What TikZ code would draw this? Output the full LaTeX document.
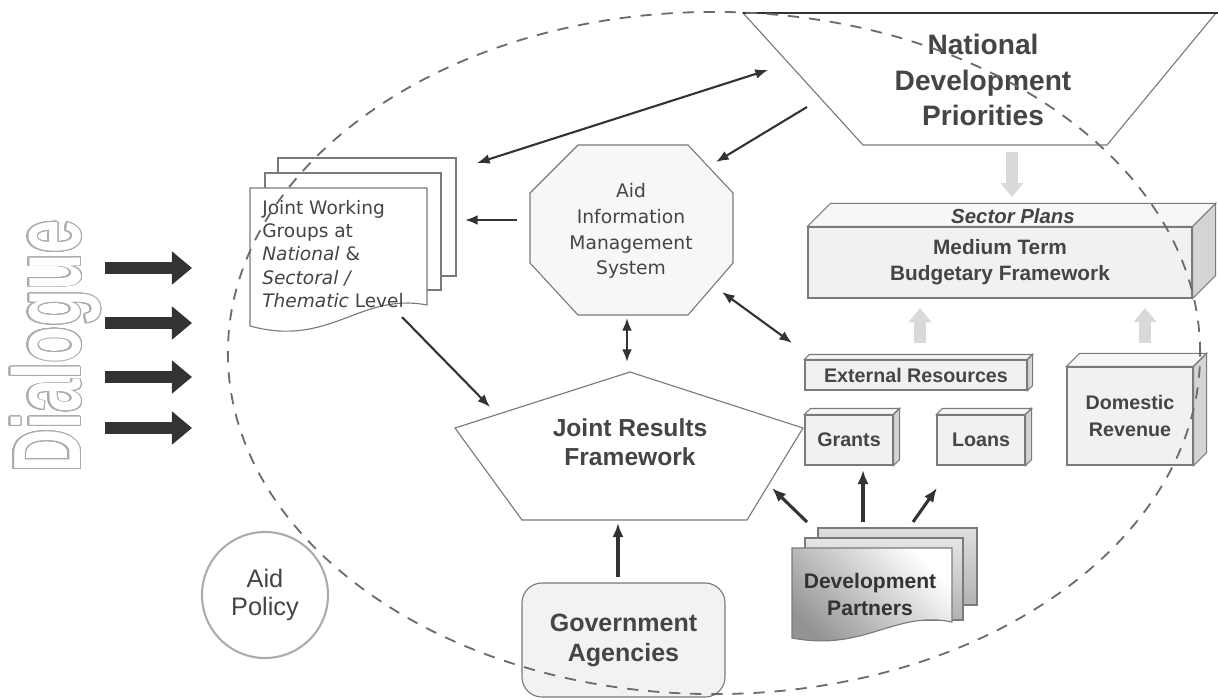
\documentclass[tikz,border=0pt]{standalone}
\usepackage{fontspec}
\setmainfont{Liberation Sans}
\newfontfamily\dvs{DejaVu Sans}
\usepackage{contour}
\usetikzlibrary{arrows.meta}
\contourlength{1pt}
\contournumber{32}
\definecolor{txt}{HTML}{454545}
\definecolor{ink}{HTML}{333333}
\definecolor{edge}{HTML}{7A7A7A}
\definecolor{face}{HTML}{F1F1F1}
\definecolor{topc}{HTML}{F7F7F7}
\definecolor{side}{HTML}{D4D4D4}
\newcommand\fs[2]{\fontsize{#1}{#2}\selectfont}
\tikzset{
  box/.style={draw=edge,line width=0.8pt,fill=face,text=txt,align=center,inner sep=0pt,font=\bfseries\fs{14}{19}},
  top face/.style={draw=edge,line width=0.8pt,fill=topc},
  side face/.style={draw=edge,line width=0.8pt,fill=side},
  bigtext/.style={text=txt,align=center,font=\bfseries\fs{17.5}{21}},
  doc/.style={draw=edge,line width=0.8pt,fill=white},
  conn/.style={ink,line width=1.5pt,>={Latex[length=9pt,width=7pt]}},
  feed/.style={ink,line width=2.2pt,-{Latex[length=10pt,width=8pt]}},
  lift/.style={gray!30,line width=8.5pt,-{Triangle[length=0.35cm,width=0.55cm]}},
  push/.style={ink,line width=9pt,-{Triangle[length=0.5cm,width=0.8cm]}},
  rim/.style={gray!85!black,line width=1.3pt,dash pattern=on 8pt off 7pt}
}
\begin{document}
\begin{tikzpicture}[x=0.025cm,y=-0.025cm]
\useasboundingbox (0,0) rectangle (1218,699);
% dialogue
\node[rotate=90,anchor=base west,inner sep=0pt] (dialogue) at (80,473)
  {\scalebox{0.625}[1]{\fs{68}{68}\bfseries\color{white}\contour{gray!65}{Dialogue}}};
\foreach \y [count=\i] in {268,323,377,428} {
  \coordinate (in\i) at (105,\y);
  \coordinate (out\i) at (192,\y);
  \draw[push] (in\i) -- (out\i);
}
% national development priorities
\draw[draw=edge,line width=0.8pt,fill=white] (743,13) -- (1216,13) -- (1107,145) -- (863,145) -- cycle;
\draw[ink,line width=1pt] (743,13) -- (1218,13);
\node[bigtext,font=\bfseries\fs{20}{25}] (ndp) at (983,80) {National\\Development\\Priorities};
% budget boxes
\node[box,minimum width=9.6cm,minimum height=1.775cm,font=\bfseries\fs{14.8}{18.5}] (mtbf) at (1000,262.5) {Medium Term\\Budgetary Framework};
\node[box,minimum width=5.55cm,minimum height=0.75cm] (ext) at (916,375) {External Resources};
\node[box,minimum width=2.2cm,minimum height=1.25cm] (grants) at (849,440) {Grants};
\node[box,minimum width=2.2cm,minimum height=1.25cm] (loans) at (981,440) {Loans};
\node[box,minimum width=3.15cm,minimum height=2.45cm] (dom) at (1130,416) {Domestic\\Revenue};
\foreach \n/\d in {mtbf/23,ext/5,grants/6,loans/6,dom/13} {
  \draw[top face] (\n.north west) -- ++(\d,-\d) -- ([shift={(\d,-\d)}]\n.north east) -- (\n.north east) -- cycle;
  \draw[side face] (\n.north east) -- ++(\d,-\d) -- ([shift={(\d,-\d)}]\n.south east) -- (\n.south east) -- cycle;
}
\node[text=txt,font=\bfseries\itshape\fs{14.5}{16}] (sector) at (1013,216) {Sector Plans};
% aims
\draw[draw=edge,line width=0.8pt,fill=gray!6] (578,145) -- (688,145) -- (733,193) -- (733,263)
  -- (688,315) -- (578,315) -- (530,263) -- (530,193) -- cycle;
\node[text=txt,align=center,font=\dvs\fs{13.3}{18.3}] (aims) at (631,231) {Aid\\Information\\Management\\System};
% joint working groups
\draw[doc] (278,158) rectangle (456,276);
\draw[doc] (265,173) rectangle (441,290);
\draw[doc] (250,188) -- (427,188) -- (427,305) .. controls (360,292) and (330,348) .. (250,326) -- cycle;
\node[anchor=west,text=txt,align=left,inner sep=0pt,font=\dvs\fs{13.2}{16.6}] (jwg) at (262,254)
  {Joint Working\\Groups at\\\textit{National} \&\\\textit{Sectoral /}\\\textit{Thematic} Level};
% joint results framework
\draw[draw=edge,line width=0.8pt,fill=white] (630,372) -- (803,428) -- (747,520) -- (522,520) -- (455,428) -- cycle;
\node[bigtext] (jrf) at (630,442) {Joint Results\\Framework};
% government agencies, aid policy
\node[box,rounded corners=0.5cm,minimum width=5.075cm,minimum height=2.85cm,fill=gray!10,font=\bfseries\fs{17.8}{21.3}] (gov) at (623.5,640) {Government\\Agencies};
\node[circle,draw=gray!65,line width=1.5pt,fill=white,minimum size=3.15cm,text=txt,align=center,font=\fs{18}{20}] (policy) at (265,595) {Aid\\Policy};
% development partners
\draw[doc,top color=gray!25,bottom color=gray!60] (818,528) rectangle (977,605);
\draw[doc,top color=gray!20,bottom color=gray!60] (805,538) rectangle (963,620);
\draw[doc,top color=white,bottom color=gray!85,shading angle=-45] (792,548) -- (952,548) -- (952,622)
  .. controls (895,610) and (865,652) .. (792,638) -- cycle;
\node[text=ink,align=center,font=\bfseries\fs{15}{19.2}] (dp) at (870,594) {Development\\Partners};
% dashed boundary
\draw[rim] (714,353) ellipse [x radius=12.15cm,y radius=8.525cm];
% connector ends
\coordinate (ndp-a) at (768,70);
\coordinate (ndp-b) at (807,107);
\coordinate (jwg-a) at (477,163);
\coordinate (jwg-e) at (465,220);
\coordinate (jwg-s) at (402,317);
\coordinate (aims-a) at (716,162);
\coordinate (aims-w) at (517,220);
\coordinate (aims-s) at (627,318);
\coordinate (aims-se) at (722,292);
\coordinate (ext-a) at (792,343);
\coordinate (jrf-a) at (490,407);
\coordinate (jrf-n) at (627,362);
\coordinate (jrf-s) at (618,523);
\coordinate (jrf-e) at (772,488);
\coordinate (gov-n) at (618,577);
\coordinate (dp-a) at (807,522);
\coordinate (dp-b) at (863,522);
\coordinate (dp-c) at (913,522);
\coordinate (grants-s) at (863,470);
\coordinate (loans-a) at (937,488);
% links
\draw[conn,<->] (ndp-a) -- (jwg-a);
\draw[conn,->] (ndp-b) -- (aims-a);
\draw[conn,->] (aims-w) -- (jwg-e);
\draw[conn,->] (jwg-s) -- (jrf-a);
\draw[conn,<->] (aims-s) -- (jrf-n);
\draw[conn,<->] (aims-se) -- (ext-a);
\draw[feed] (gov-n) -- (jrf-s);
\draw[feed] (dp-a) -- (jrf-e);
\draw[feed] (dp-b) -- (grants-s);
\draw[feed] (dp-c) -- (loans-a);
% flows into the budget
\coordinate (ndp-s) at (1012,152);
\coordinate (mtbf-a) at (1012,197);
\coordinate (ext-n) at (920,343);
\coordinate (mtbf-b) at (920,308);
\coordinate (dom-n) at (1145,343);
\coordinate (mtbf-c) at (1145,308);
\draw[lift] (ndp-s) -- (mtbf-a);
\draw[lift] (ext-n) -- (mtbf-b);
\draw[lift] (dom-n) -- (mtbf-c);
\end{tikzpicture}
\end{document}
